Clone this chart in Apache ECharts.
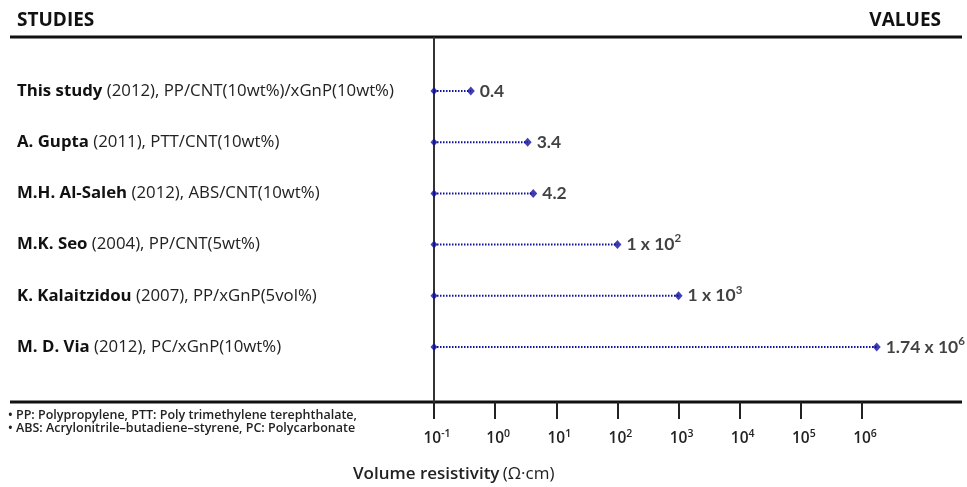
<!DOCTYPE html>
<html>
<head>
<meta charset="utf-8">
<script src="https://cdn.jsdelivr.net/npm/echarts@6/dist/echarts.min.js"></script>
<style>
  html, body { margin: 0; padding: 0; background: #fff; }
  #chart { width: 967px; height: 487px; }
</style>
</head>
<body>
<div id="chart"></div>
<script>
// Study authors (bold part) and the rest of each row label
const studies = ['This study', 'A. Gupta', 'M.H. Al-Saleh', 'M.K. Seo', 'K. Kalaitzidou', 'M. D. Via'];
const details = [
  ' (2012), PP/CNT(10wt%)/xGnP(10wt%)',
  ' (2011), PTT/CNT(10wt%)',
  ' (2012), ABS/CNT(10wt%)',
  ' (2004), PP/CNT(5wt%)',
  ' (2007), PP/xGnP(5vol%)',
  ' (2012), PC/xGnP(10wt%)'
];
// Volume resistivity, Ω·cm
const resistivity = [0.4, 3.4, 4.2, 1e2, 1e3, 1.74e6];
// Printed values: mantissa text and exponent (null when none)
const valueMantissa = ['0.4', '3.4', '4.2', '1 x 10', '1 x 10', '1.74 x 10'];
const valueExponent = [null, null, null, '2', '3', '6'];
// Decade exponents shown on the x axis
const tickExponents = [-1, 0, 1, 2, 3, 4, 5, 6];
const axisFloor = 0.1;

const BLUE = '#10109e';
const INK = '#111';
const GRID_LEFT = 434;
const GRID_TOP = 65.4;
const GRID_BOTTOM_Y = 372.6;
const AXIS_Y = 402;
const LABEL_FONT = '"Open Sans", "Noto Sans", sans-serif';
const VALUE_FONT = 'Lato, sans-serif';

const chart = echarts.init(document.getElementById('chart'), null, { renderer: 'canvas' });

const tickValues = tickExponents.map(e => Math.pow(10, e));

const option = {
  animation: false,
  backgroundColor: '#fff',
  grid: {
    left: GRID_LEFT,
    right: 105,
    top: GRID_TOP,
    bottom: 487 - GRID_BOTTOM_Y,
    containLabel: false
  },
  xAxis: {
    type: 'log',
    logBase: 10,
    min: axisFloor,
    max: 1e6,
    offset: AXIS_Y - GRID_BOTTOM_Y,
    axisLine: { show: false },
    splitLine: { show: false },
    axisTick: {
      show: true,
      length: 17,
      customValues: tickValues,
      lineStyle: { color: '#222', width: 2 }
    },
    axisLabel: {
      show: true,
      margin: 27,
      customValues: tickValues,
      formatter: v => '{b|10}{s|' + Math.round(Math.log10(v)) + '}',
      rich: {
        b: { fontFamily: LABEL_FONT, fontSize: 15.5, fontWeight: 600, color: '#222', lineHeight: 20, padding: [0, 0, 0, 6] },
        s: { fontFamily: LABEL_FONT, fontSize: 10.5, fontWeight: 600, color: '#222', lineHeight: 20, verticalAlign: 'top', padding: [0, 0, 6, 0] }
      }
    }
  },
  yAxis: {
    type: 'category',
    inverse: true,
    data: studies,
    axisLine: { show: false },
    axisTick: { show: false },
    splitLine: { show: false },
    axisLabel: {
      align: 'left',
      margin: GRID_LEFT - 17,
      formatter: (v, i) => '{b|' + studies[i] + '}{n|' + details[i] + '}',
      rich: {
        b: { fontFamily: LABEL_FONT, fontSize: 16.8, fontWeight: 'bold', color: INK },
        n: { fontFamily: LABEL_FONT, fontSize: 16.8, color: '#222' }
      }
    }
  },
  series: [
    {
      // dotted connector from the axis floor to each value
      type: 'custom',
      clip: false,
      data: resistivity.map((v, i) => [v, i]),
      renderItem: (params, api) => {
        const i = api.value(1);
        const start = api.coord([axisFloor, i]);
        const end = api.coord([api.value(0), i]);
        return {
          type: 'line',
          shape: { x1: start[0], y1: start[1], x2: end[0], y2: end[1] },
          style: { stroke: BLUE, lineWidth: 2, lineDash: [1.5, 1.5] }
        };
      },
      z: 2
    },
    {
      // start markers on the axis
      type: 'scatter',
      clip: false,
      symbol: 'diamond',
      symbolSize: [7, 8],
      itemStyle: { color: BLUE },
      data: resistivity.map((v, i) => [axisFloor, i]),
      z: 3
    },
    {
      // end markers with printed values
      type: 'scatter',
      clip: false,
      symbol: 'diamond',
      symbolSize: [8, 9],
      itemStyle: { color: BLUE },
      data: resistivity.map((v, i) => [v, i]),
      label: {
        show: true,
        position: 'right',
        distance: 5,
        formatter: p => {
          const i = p.dataIndex;
          return '{m|' + valueMantissa[i] + '}' + (valueExponent[i] ? '{s|' + valueExponent[i] + '}' : '');
        },
        rich: {
          m: { fontFamily: VALUE_FONT, fontSize: 17.5, fontWeight: 'bold', color: INK, lineHeight: 24 },
          s: { fontFamily: VALUE_FONT, fontSize: 11.5, fontWeight: 'bold', color: INK, lineHeight: 24, verticalAlign: 'top', padding: [0, 0, 8, 0] }
        }
      },
      z: 4
    }
  ],
  graphic: [
    {
      type: 'text', left: 17, top: 11,
      style: { text: 'STUDIES', fontFamily: LABEL_FONT, fontSize: 19, fontWeight: 'bold', fill: INK }
    },
    {
      type: 'text', right: 26, top: 11,
      style: { text: 'VALUES', fontFamily: LABEL_FONT, fontSize: 19, fontWeight: 'bold', fill: INK }
    },
    {
      type: 'line',
      shape: { x1: 10, y1: 37, x2: 962, y2: 37 },
      style: { stroke: '#111', lineWidth: 3 }
    },
    {
      type: 'line',
      shape: { x1: 10, y1: AXIS_Y, x2: 962, y2: AXIS_Y },
      style: { stroke: '#111', lineWidth: 3 }
    },
    {
      type: 'line',
      shape: { x1: GRID_LEFT, y1: 37, x2: GRID_LEFT, y2: AXIS_Y + 17 },
      style: { stroke: '#333', lineWidth: 2 }
    },
    {
      type: 'text', left: 8, top: 409,
      style: {
        text: '• PP: Polypropylene, PTT: Poly trimethylene terephthalate,\n• ABS: Acrylonitrile–butadiene–styrene, PC: Polycarbonate',
        fontFamily: LABEL_FONT, fontSize: 12.5, fontWeight: 600, fill: '#222', lineHeight: 13
      }
    },
    {
      type: 'text', left: 353, top: 466,
      style: {
        text: '{b|Volume resistivity} {n|(Ω·cm)}',
        rich: {
          b: { fontFamily: LABEL_FONT, fontSize: 17, fontWeight: 600, fill: '#222' },
          n: { fontFamily: LABEL_FONT, fontSize: 17, fill: '#222' }
        }
      }
    }
  ]
};

chart.setOption(option);
</script>
</body>
</html>
